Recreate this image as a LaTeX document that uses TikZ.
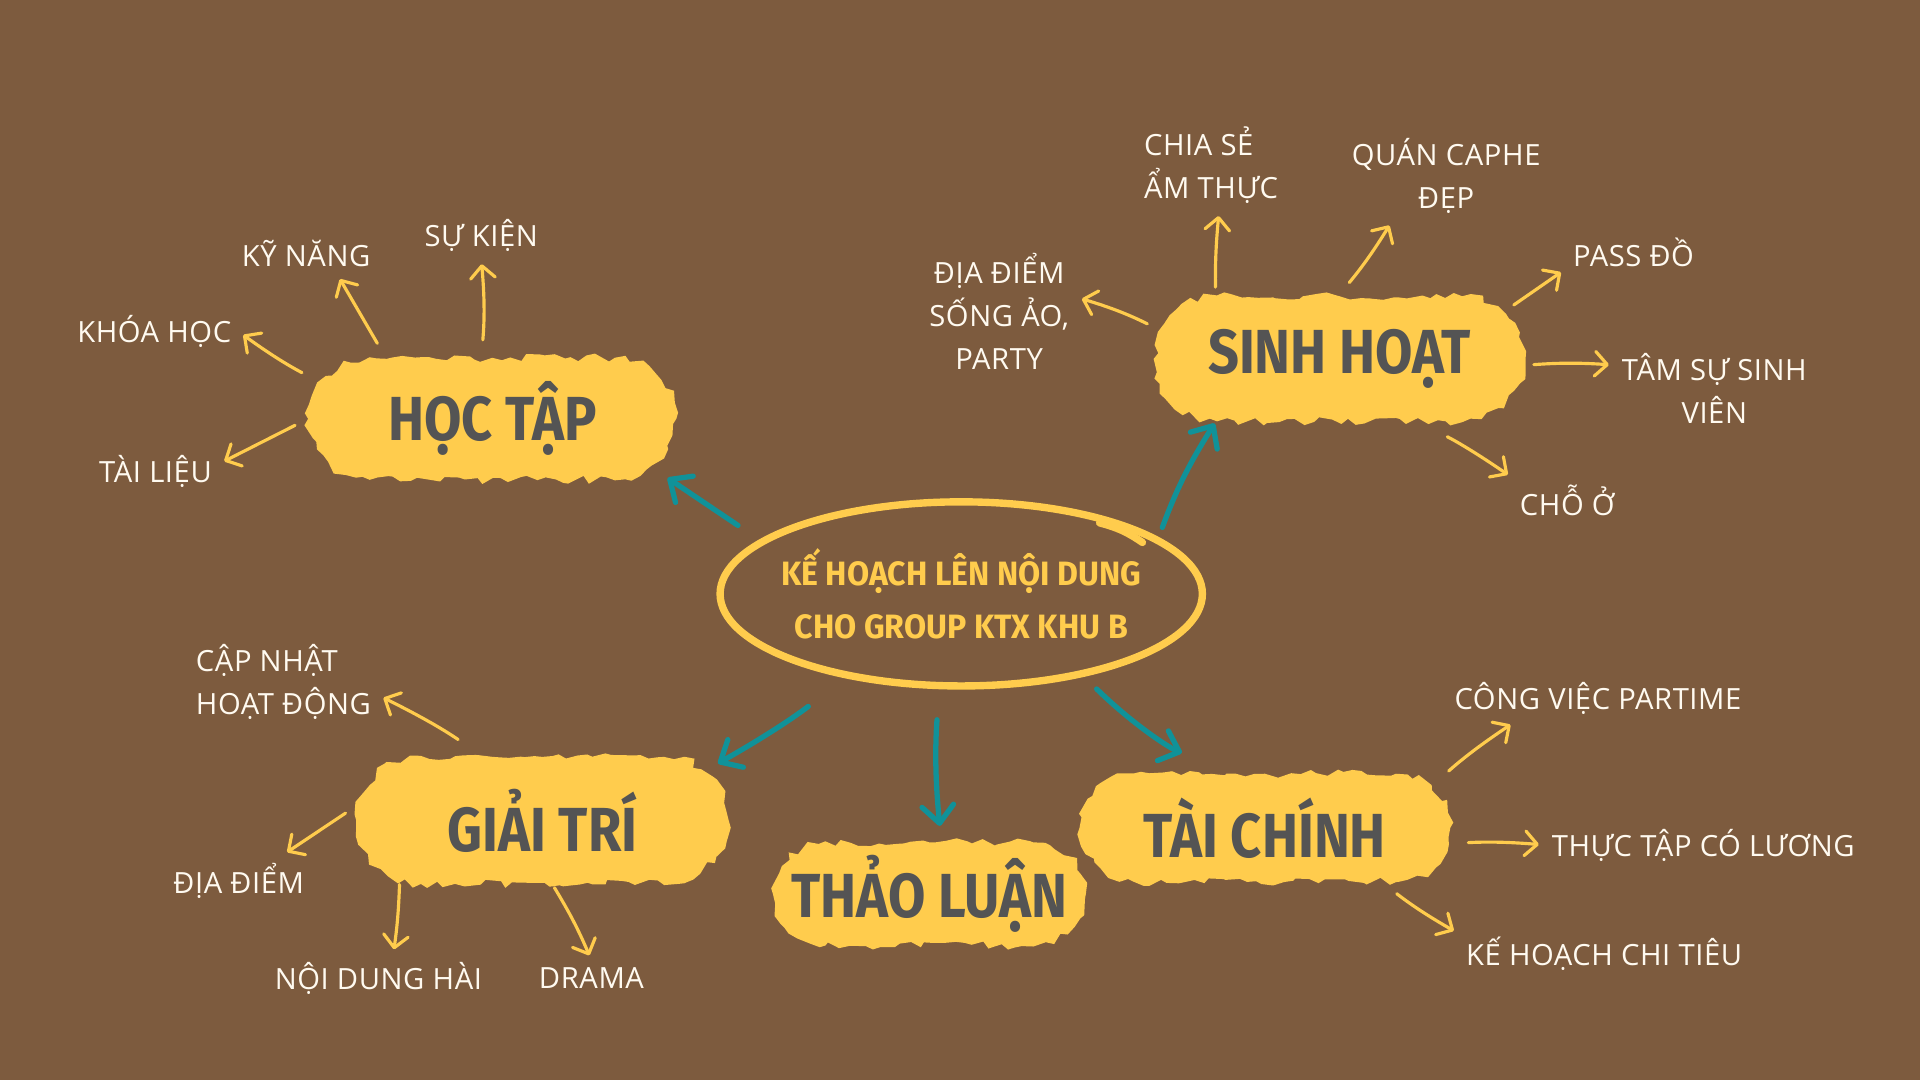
\documentclass[tikz,border=0pt]{standalone}
\usepackage{fontspec}
\usepackage{tikz}
\usetikzlibrary{arrows.meta,shapes.geometric,shapes.misc,decorations.pathmorphing}
\newfontfamily\leaffont{Open Sans}[LetterSpace=2]
\newfontfamily\topicfont{Fira Sans}[FakeStretch=0.87]
\newfontfamily\planfont{Fira Sans}[FakeStretch=0.95]
\definecolor{bark}{RGB}{125,91,62}
\definecolor{paper}{RGB}{255,204,77}
\definecolor{ink}{RGB}{84,84,84}
\definecolor{lagoon}{RGB}{16,146,153}
\definecolor{chalk}{RGB}{255,250,240}

\begin{document}
\begin{tikzpicture}[x=0.012245cm, y=-0.012245cm,
        leaf/.style={font=\leaffont\fontsize{8.3}{12.2}\selectfont, text=chalk, inner sep=2pt, align=center},
        topic/.style={shape=rounded rectangle, fill=paper, decorate,
            decoration={random steps, segment length=2.5pt, amplitude=1.2pt},
            text=ink, font=\topicfont\bfseries\fontsize{17.7}{20}\selectfont, inner sep=0pt},
        twig/.style={draw=paper, line width=0.9pt, line cap=round, shorten >=1.5pt,
            -{Straight Barb[length=3.5pt,width=7pt,round]}},
        branch/.style={draw=lagoon, line width=1.5pt, line cap=round,
            -{Straight Barb[length=5pt,width=9pt,round]}}]
        \pgfmathsetseed{42}
        \useasboundingbox (0,0) rectangle (1568,882);
        \fill[bark] (0,0) rectangle (1568,882);

        % the five topics
        \node[topic, minimum width=3.67cm, minimum height=1.22cm] (hoctap) at (402,342) {HỌC TẬP};
        \node[topic, minimum width=3.70cm, minimum height=1.25cm] (sinhhoat) at (1094,293) {SINH HOẠT};
        \node[topic, minimum width=3.70cm, minimum height=1.27cm] (giaitri) at (443,670) {GIẢI TRÍ};
        \node[topic, minimum width=3.09cm, minimum height=1.03cm] (thaoluan) at (759,730) {THẢO LUẬN};
        \node[topic, minimum width=3.70cm, minimum height=1.08cm] (taichinh) at (1033,676) {TÀI CHÍNH};

        \node[ellipse, draw=paper, line width=2.1pt, minimum width=4.82cm, minimum height=1.84cm,
            inner xsep=-8pt, inner ysep=0pt, text=paper, align=center,
            font=\planfont\bfseries\fontsize{9.6}{15.3}\selectfont] (plan) at (785,485)
            {KẾ HOẠCH LÊN NỘI DUNG\\CHO GROUP KTX KHU B};
        \draw[draw=paper, line width=2.1pt, line cap=round]
            ([shift={(113,-58)}]plan.center) to[bend left=10] ([shift={(148,-42)}]plan.center);

        % leaves
        \node[leaf] (kynang) at (250,207) {KỸ NĂNG};
        \node[leaf] (sukien) at (393,192) {SỰ KIỆN};
        \node[leaf] (khoahoc) at (126,271) {KHÓA HỌC};
        \node[leaf] (tailieu) at (127,385) {TÀI LIỆU};
        \node[leaf] (songao) at (816,254) {ĐỊA ĐIỂM\\SỐNG ẢO,\\PARTY};
        \node[leaf, align=left] (amthuc) at (989,134.5) {CHIA SẺ\\ẨM THỰC};
        \node[leaf] (caphe) at (1181,143.5) {QUÁN CAPHE\\ĐẸP};
        \node[leaf] (passdo) at (1334,206) {PASS ĐỒ};
        \node[leaf] (tamsu) at (1400,317) {TÂM SỰ SINH\\VIÊN};
        \node[leaf] (choo) at (1280,409) {CHỖ Ở};
        \node[leaf, align=left] (capnhat) at (231.5,557) {CẬP NHẬT\\HOẠT ĐỘNG};
        \node[leaf] (diadiem) at (195,719) {ĐỊA ĐIỂM};
        \node[leaf] (haihuoc) at (309,799) {NỘI DUNG HÀI};
        \node[leaf] (drama) at (483,799) {DRAMA};
        \node[leaf] (partime) at (1305,570) {CÔNG VIỆC PARTIME};
        \node[leaf] (thuctap) at (1391,690) {THỰC TẬP CÓ LƯƠNG};
        \node[leaf] (chitieu) at (1310,779) {KẾ HOẠCH CHI TIÊU};

        \draw[twig, shorten <=5.8pt] (hoctap.168) to[bend left=4] (khoahoc.east);
        \draw[twig, shorten <=4.5pt] (hoctap.150) -- (kynang.-34);
        \draw[twig, shorten <=4.9pt] (hoctap.100) to[bend right=5] (sukien.south);
        \draw[twig, shorten <=4.1pt] (hoctap.180) -- (tailieu.7);

        \draw[twig, shorten <=4.2pt] (sinhhoat.171) to[bend right=5] (songao.10);
        \draw[twig, shorten <=2.4pt] (sinhhoat.153) to[bend left=3] (amthuc.-80);
        \draw[twig, shorten <=4.8pt] (sinhhoat.91) to[bend right=4] (caphe.220);
        \draw[twig, shorten <=3.3pt] (sinhhoat.16) -- (passdo.194);
        \draw[twig, shorten <=2.5pt] (sinhhoat.-2) to[bend left=4] (tamsu.167);
        \draw[twig, shorten <=9.4pt] (sinhhoat.-39) to[bend left=4] (choo.north west);

        \draw[twig, shorten <=8.4pt] (giaitri.133) to[bend right=4] (capnhat.-8);
        \draw[twig, shorten <=4.5pt] (giaitri.175) -- (diadiem.30);
        \draw[twig, shorten <=1pt] (giaitri.203) to[bend left=3] (haihuoc.58);
        \draw[twig, shorten <=1pt] (giaitri.-81) to[bend left=4] (drama.north);

        \draw[twig, shorten <=6.5pt] (taichinh.14) to[bend left=4] (partime.196);
        \draw[twig, shorten <=5.7pt] (taichinh.-5) to[bend left=4] (thuctap.west);
        \draw[twig, shorten <=5.2pt] (taichinh.-25) to[bend right=4] (chitieu.172);

        % from the plan to the topics
        \draw[branch, shorten <=7.3pt, shorten >=5.2pt] (plan.165) -- (hoctap.-17);
        \draw[branch, shorten <=3pt, shorten >=0.5pt] (plan.16) to[bend left=6] (sinhhoat.207);
        \draw[branch, shorten <=13.2pt, shorten >=4.3pt] (plan.216) to[bend left=4] (giaitri.17);
        \draw[branch, shorten <=8.7pt, shorten >=4.5pt] (plan.-103) to[bend right=5] (thaoluan.77);
        \draw[branch, shorten <=5pt, shorten >=16.7pt] (plan.-34) to[bend right=12] (taichinh.117);
\end{tikzpicture}
\end{document}
